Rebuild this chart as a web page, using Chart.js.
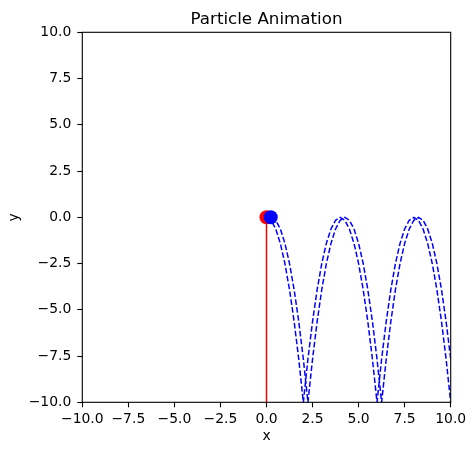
<!DOCTYPE html>
<html><head><meta charset="utf-8">
<script src="https://cdn.jsdelivr.net/npm/chart.js@4.4.0/dist/chart.umd.min.js"></script>
<style>html,body{margin:0;padding:0;background:#fff;}canvas{display:block;}</style>
</head><body>
<canvas id="c" width="476" height="455"></canvas>
<script>
const titleText = 'Particle Animation';
const xAxisLabel = 'x';
const yAxisLabel = 'y';
const xTickValues = [-10, -7.5, -5, -2.5, 0, 2.5, 5, 7.5, 10];
const xTickLabels = ['\u221210.0', '\u22127.5', '\u22125.0', '\u22122.5', '0.0', '2.5', '5.0', '7.5', '10.0'];
const yTickValues = [-10, -7.5, -5, -2.5, 0, 2.5, 5, 7.5, 10];
const yTickLabels = ['\u221210.0', '\u22127.5', '\u22125.0', '\u22122.5', '0.0', '2.5', '5.0', '7.5', '10.0'];

// blue trajectory, first dashed trace
const pathAX = [0,0.25,0.5,0.75,1,1.25,1.5,1.75,2,2.25,2.5,2.75,3,3.25,3.5,3.75,4,4.25,4.5,4.75,5,5.25,5.5,5.75,6,6.25,6.5,6.75,7,7.25,7.5,7.75,8,8.25,8.5,8.75,9,9.25,9.5,9.75,10];
const pathAY = [0,-0.16,-0.63,-1.41,-2.5,-3.91,-5.63,-7.66,-10,-7.66,-5.63,-3.91,-2.5,-1.41,-0.63,-0.16,0,-0.16,-0.63,-1.41,-2.5,-3.91,-5.63,-7.66,-10,-7.66,-5.63,-3.91,-2.5,-1.41,-0.63,-0.16,0,-0.16,-0.63,-1.41,-2.5,-3.91,-5.63,-7.66,-10];
// blue trajectory, second dashed trace
const pathBX = [0.25,0.5,0.75,1,1.25,1.5,1.75,2,2.25,2.5,2.75,3,3.25,3.5,3.75,4,4.25,4.5,4.75,5,5.25,5.5,5.75,6,6.25,6.5,6.75,7,7.25,7.5,7.75,8,8.25,8.5,8.75,9,9.25,9.5,9.75,10,10.25];
const pathBY = [0,-0.16,-0.63,-1.41,-2.5,-3.91,-5.63,-7.66,-10,-7.66,-5.63,-3.91,-2.5,-1.41,-0.63,-0.16,0,-0.16,-0.63,-1.41,-2.5,-3.91,-5.63,-7.66,-10,-7.66,-5.63,-3.91,-2.5,-1.41,-0.63,-0.16,0,-0.16,-0.63,-1.41,-2.5,-3.91,-5.63,-7.66,-10];
// red trajectory
const redPathX = [0, 0];
const redPathY = [0, -10];
// particles
const redParticleX = [0];
const redParticleY = [0];
const blueParticleX = [0.23];
const blueParticleY = [0];

const FONT = 'DejaVu Sans';
const toPts = (xs, ys) => xs.map((x, i) => ({x: x, y: ys[i]}));

const framePlugin = {
  id: 'frame',
  afterDatasetsDraw(chart) {
    const a = chart.chartArea, ctx = chart.ctx;
    ctx.save();
    ctx.strokeStyle = '#000';
    ctx.lineWidth = 1.1;
    ctx.strokeRect(a.left, a.top, a.right - a.left, a.bottom - a.top);
    ctx.restore();
  },
  afterDraw(chart) {
    const a = chart.chartArea, ctx = chart.ctx;
    ctx.save();
    ctx.fillStyle = '#000';
    ctx.font = '16.7px "' + FONT + '"';
    ctx.textAlign = 'center';
    ctx.textBaseline = 'alphabetic';
    ctx.fillText(titleText, (a.left + a.right) / 2, 24);
    ctx.restore();
  }
};

const tickFont = {family: FONT, size: 13.9};
const gridCfg = {display: true, drawOnChartArea: false, drawTicks: true, tickLength: 5, tickColor: '#000', tickWidth: 1.1};

new Chart(document.getElementById('c'), {
  type: 'scatter',
  data: {
    datasets: [
      {data: toPts(blueParticleX, blueParticleY), pointRadius: 7, pointHoverRadius: 7, pointBackgroundColor: '#0000ff', pointBorderWidth: 0, borderWidth: 0, showLine: false, order: 0},
      {data: toPts(redParticleX, redParticleY), pointRadius: 7, pointHoverRadius: 7, pointBackgroundColor: '#ff0000', pointBorderWidth: 0, borderWidth: 0, showLine: false, order: 1},
      {data: toPts(pathAX, pathAY), showLine: true, pointRadius: 0, borderColor: '#0000ff', borderWidth: 1.5, borderDash: [5.55, 2.4], tension: 0, fill: false, clip: 0, order: 2},
      {data: toPts(pathBX, pathBY), showLine: true, pointRadius: 0, borderColor: '#0000ff', borderWidth: 1.5, borderDash: [5.55, 2.4], tension: 0, fill: false, clip: 0, order: 3},
      {data: toPts(redPathX, redPathY), showLine: true, pointRadius: 0, borderColor: '#ff0000', borderWidth: 1.5, tension: 0, fill: false, clip: 0, order: 4}
    ]
  },
  options: {
    responsive: false,
    animation: false,
    devicePixelRatio: 1,
    layout: {padding: {left: 0, right: 25.3, top: 32.3, bottom: 0}},
    plugins: {legend: {display: false}, tooltip: {enabled: false}, title: {display: false}},
    scales: {
      x: {
        type: 'linear', min: -10, max: 10,
        afterBuildTicks: s => { s.ticks = xTickValues.map(v => ({value: v})); },
        afterFit: s => { s.height = 52.7; },
        ticks: {callback: (v, i) => xTickLabels[i], font: tickFont, color: '#000', padding: 4, maxRotation: 0, autoSkip: false},
        grid: gridCfg,
        border: {display: false},
        title: {display: true, text: xAxisLabel, font: tickFont, color: '#000', padding: {top: 0, bottom: 10}}
      },
      y: {
        type: 'linear', min: -10, max: 10,
        afterBuildTicks: s => { s.ticks = yTickValues.map(v => ({value: v})); },
        afterFit: s => { s.width = 82.3; },
        ticks: {callback: (v, i) => yTickLabels[i], font: tickFont, color: '#000', padding: 6, autoSkip: false},
        grid: gridCfg,
        border: {display: false},
        title: {display: true, text: yAxisLabel, font: tickFont, color: '#000', padding: {top: 6.4, bottom: 0}}
      }
    }
  },
  plugins: [framePlugin]
});
</script>
</body></html>
